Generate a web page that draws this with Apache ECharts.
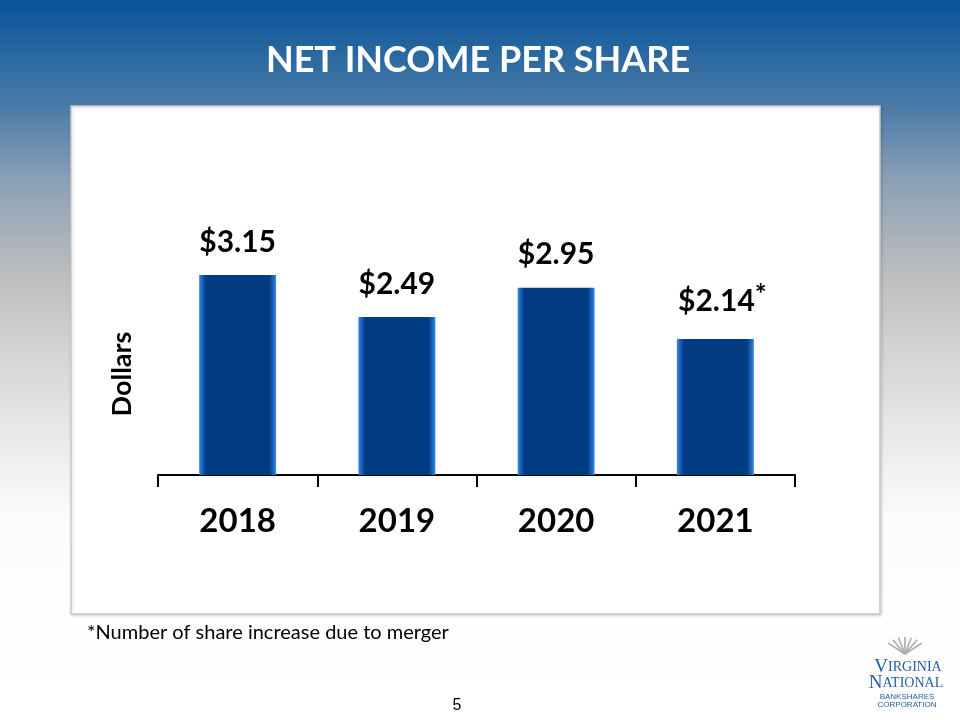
<!DOCTYPE html>
<html>
<head>
<meta charset="utf-8">
<script src="https://cdn.jsdelivr.net/npm/echarts@6/dist/echarts.min.js"></script>
<style>
html, body { margin: 0; padding: 0; }
#chart { width: 960px; height: 720px; }
</style>
</head>
<body>
<div id="chart"></div>
<script>
// net income per share, dollars
var years = ['2018', '2019', '2020', '2021'];
var perShare = [3.15, 2.49, 2.95, 2.14];
var labelMarks = ['', '', '', '*'];

var titleText = 'NET INCOME PER SHARE';
var axisName = 'Dollars';
var footnote = '*Number of share increase due to merger';
var pageNo = '5';

var font = 'Lato, "Noto Sans", sans-serif';

var barFill = new echarts.graphic.LinearGradient(0, 0, 1, 0, [
    { offset: 0, color: '#3b8be8' },
    { offset: 0.04, color: '#1a62bb' },
    { offset: 0.09, color: '#013b81' },
    { offset: 0.91, color: '#013b81' },
    { offset: 0.96, color: '#1a62bb' },
    { offset: 1, color: '#3b8be8' }
]);

var barData = perShare.map(function (v, i) {
    var item = { value: v };
    if (labelMarks[i]) {
        item.label = {
            formatter: '${c}{s|' + labelMarks[i] + '}',
            offset: [7, 0]
        };
    }
    return item;
});

// logo fan strokes
var fan = [];
for (var k = 0; k < 7; k++) {
    var a = Math.PI * (0.22 + k * 0.093);
    fan.push({
        type: 'line',
        z: -5,
        shape: { x1: 905, y1: 654, x2: 905 - Math.cos(a) * 22, y2: 654 - Math.sin(a) * 17 },
        style: { stroke: '#a9acb0', lineWidth: 1.6 }
    });
}

var option = {
    animation: false,
    grid: { left: 158, right: 165, top: 157.5, bottom: 245 },
    xAxis: {
        type: 'category',
        data: years,
        axisLine: { lineStyle: { color: '#000', width: 2 } },
        axisTick: { show: true, length: 12, lineStyle: { color: '#000', width: 2 } },
        axisLabel: {
            margin: 30,
            color: '#000',
            fontFamily: font,
            fontWeight: 'bold',
            fontSize: 33
        }
    },
    yAxis: {
        type: 'value',
        min: 0,
        max: 5,
        show: false
    },
    series: [{
        type: 'bar',
        z: 5,
        barWidth: 77,
        data: barData,
        itemStyle: { color: barFill },
        label: {
            show: true,
            position: 'top',
            distance: 18,
            formatter: '${c}',
            color: '#000',
            fontFamily: font,
            fontWeight: 'bold',
            fontSize: 30,
            rich: {
                s: { fontFamily: font, fontSize: 28, color: '#000', verticalAlign: 'top', padding: [0, 0, 12, 0] }
            }
        }
    }],
    graphic: [
        {
            type: 'rect', z: -20,
            shape: { x: 0, y: 0, width: 960, height: 720 },
            style: {
                fill: new echarts.graphic.LinearGradient(0, 0, 0, 1, [
                    { offset: 0, color: '#07549a' },
                    { offset: 0.14, color: '#4779a6' },
                    { offset: 0.25, color: '#8aa0b6' },
                    { offset: 0.38, color: '#bdbdbd' },
                    { offset: 0.5, color: '#d6d6d6' },
                    { offset: 0.62, color: '#ececec' },
                    { offset: 0.72, color: '#fcfcfc' },
                    { offset: 1, color: '#ffffff' }
                ])
            }
        },
        {
            type: 'rect', z: -10,
            shape: { x: 71, y: 106, width: 809, height: 508 },
            style: {
                fill: '#ffffff', stroke: '#c9c9c9', lineWidth: 1.5,
                shadowBlur: 3, shadowColor: 'rgba(0,0,0,0.15)', shadowOffsetX: 1, shadowOffsetY: 1
            }
        },
        {
            type: 'text', z: 10,
            style: {
                x: 478, y: 60, text: titleText, align: 'center', verticalAlign: 'middle',
                fill: '#ffffff', font: 'bold 36px ' + font
            }
        },
        {
            type: 'text', z: 10,
            rotation: Math.PI / 2,
            x: 122, y: 374,
            style: {
                x: 0, y: 0, text: axisName, align: 'center', verticalAlign: 'middle',
                fill: '#000', font: 'bold 27px ' + font
            }
        },
        {
            type: 'text', z: 10,
            style: {
                x: 87, y: 633, text: footnote, align: 'left', verticalAlign: 'middle',
                fill: '#000', font: '20px ' + font
            }
        },
        {
            type: 'text', z: 10,
            style: {
                x: 457, y: 706, text: pageNo, align: 'center', verticalAlign: 'middle',
                fill: '#000', font: '16px "Liberation Sans", Arial, sans-serif'
            }
        },
        {
            type: 'text', z: 10,
            style: {
                x: 908, y: 667, text: 'V{s|IRGINIA}', align: 'center', verticalAlign: 'middle',
                fill: '#245f9f', font: '19px "Liberation Serif", serif',
                rich: { s: { fontSize: 14, fontFamily: '"Liberation Serif", serif', fill: '#245f9f' } }
            }
        },
        {
            type: 'text', z: 10,
            style: {
                x: 906, y: 683, text: 'N{s|ATIONAL}', align: 'center', verticalAlign: 'middle',
                fill: '#245f9f', font: '19px "Liberation Serif", serif',
                rich: { s: { fontSize: 14, fontFamily: '"Liberation Serif", serif', fill: '#245f9f' } }
            }
        },
        {
            type: 'text', z: 10,
            style: {
                x: 907, y: 697, text: 'BANKSHARES', align: 'center', verticalAlign: 'middle',
                fill: '#245f9f', font: '8px "Liberation Sans", sans-serif'
            }
        },
        {
            type: 'text', z: 10,
            style: {
                x: 907, y: 705, text: 'CORPORATION', align: 'center', verticalAlign: 'middle',
                fill: '#245f9f', font: '8px "Liberation Sans", sans-serif'
            }
        }
    ].concat(fan)
};

var myChart = echarts.init(document.getElementById('chart'));
myChart.setOption(option);
</script>
</body>
</html>
